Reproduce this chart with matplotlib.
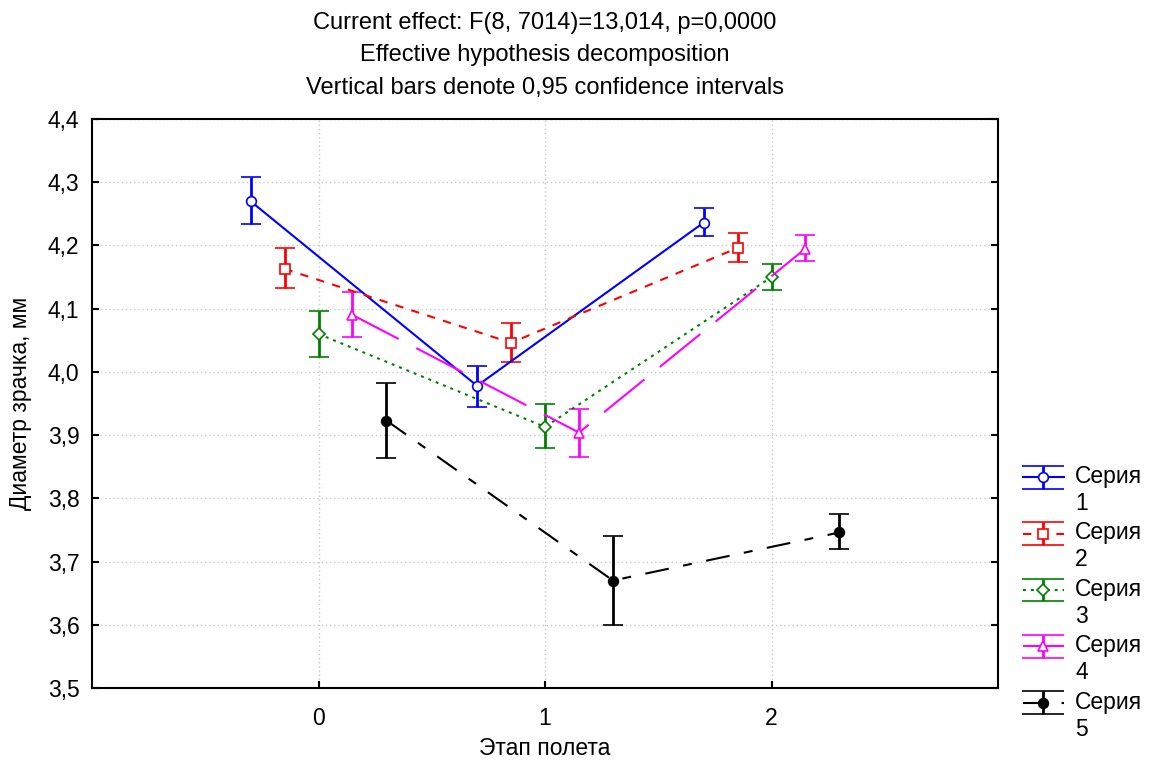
import matplotlib
matplotlib.use('Agg')
import matplotlib.pyplot as plt
from matplotlib.legend_handler import HandlerErrorbar
from matplotlib.lines import Line2D
from matplotlib.container import ErrorbarContainer

plt.rcParams['font.family'] = ['Liberation Sans', 'DejaVu Sans']

stages = [0, 1, 2]
offsets = [-0.3, -0.15, 0.0, 0.15, 0.3]
labels = ['Серия\n1', 'Серия\n2', 'Серия\n3', 'Серия\n4', 'Серия\n5']

means = [
    [4.270, 3.978, 4.236],
    [4.163, 4.046, 4.196],
    [4.060, 3.913, 4.150],
    [4.090, 3.904, 4.195],
    [3.923, 3.670, 3.746],
]
ci_low = [
    [4.234, 3.945, 4.215],
    [4.133, 4.016, 4.174],
    [4.024, 3.879, 4.130],
    [4.055, 3.865, 4.175],
    [3.864, 3.600, 3.720],
]
ci_high = [
    [4.308, 4.010, 4.260],
    [4.196, 4.078, 4.220],
    [4.097, 3.949, 4.170],
    [4.127, 3.941, 4.216],
    [3.983, 3.740, 3.775],
]

colors = ['#0000ff', '#ff0000', '#008000', '#ff00ff', '#000000']
markers = ['o', 's', 'D', '^', 'o']
msizes = [7, 7, 6, 7, 7]
filled = [False, False, False, False, True]
styles = ['-', (0, (4, 4)), (0, (1.4, 2.4)), (0, (25, 9.5)), (0, (11.5, 7, 4.3, 7))]

FS = 16.5


class TopLineHandler(HandlerErrorbar):
    # put the handle next to the first line of a two-line label, with wide caps
    def create_artists(self, legend, orig_handle, xdescent, ydescent,
                       width, height, fontsize, trans):
        arts = super().create_artists(legend, orig_handle, xdescent,
                                      ydescent - 1.2 * fontsize, width, height,
                                      fontsize, trans)
        for a in arts:
            if isinstance(a, Line2D) and a.get_marker() == '_':
                a.set_markersize(width)
        return arts


fig = plt.figure(figsize=(11.54, 7.63), dpi=100)
ax = fig.add_axes([92 / 1154, 1 - 688 / 763, 906 / 1154, 569 / 763])

for i in range(5):
    xs = [s + offsets[i] for s in stages]
    lo = [m - l for m, l in zip(means[i], ci_low[i])]
    hi = [h - m for m, h in zip(means[i], ci_high[i])]
    ax.errorbar(xs, means[i], yerr=[lo, hi], color=colors[i], linestyle=styles[i],
                linewidth=1.5, elinewidth=2, capsize=7, capthick=2,
                marker=markers[i], markersize=msizes[i],
                markerfacecolor=colors[i] if filled[i] else 'white',
                markeredgecolor=colors[i], markeredgewidth=1.2,
                label=labels[i], zorder=3)

ax.set_xlim(-1, 3)
ax.set_ylim(3.5, 4.4)
ax.set_xticks(stages)
ax.set_yticks([3.5 + 0.1 * k for k in range(10)])
ax.set_yticklabels([f'{3.5 + 0.1 * k:.1f}'.replace('.', ',') for k in range(10)])
ax.tick_params(direction='in', labelsize=FS, right=True, length=5, width=1.5)
ax.tick_params(axis='x', pad=14)
ax.tick_params(axis='y', pad=9)
ax.grid(True, color='#c8c8c8', linestyle=(0, (1, 2)), linewidth=1)
for sp in ax.spines.values():
    sp.set_linewidth(1.5)

ax.set_xlabel('Этап полета', fontsize=FS, labelpad=5)
ax.set_ylabel('Диаметр зрачка, мм', fontsize=FS, labelpad=11)
ax.set_title('Current effect: F(8, 7014)=13,014, p=0,0000\n'
             'Effective hypothesis decomposition\n'
             'Vertical bars denote 0,95 confidence intervals',
             fontsize=17, linespacing=1.62, pad=18)

ax.legend(loc='upper left', bbox_to_anchor=(1.017, 0.408), frameon=False,
          fontsize=FS, handlelength=1.8, labelspacing=0.3, handletextpad=0.5,
          borderaxespad=0, handler_map={ErrorbarContainer: TopLineHandler()})

fig.savefig('out.png', dpi=100)
